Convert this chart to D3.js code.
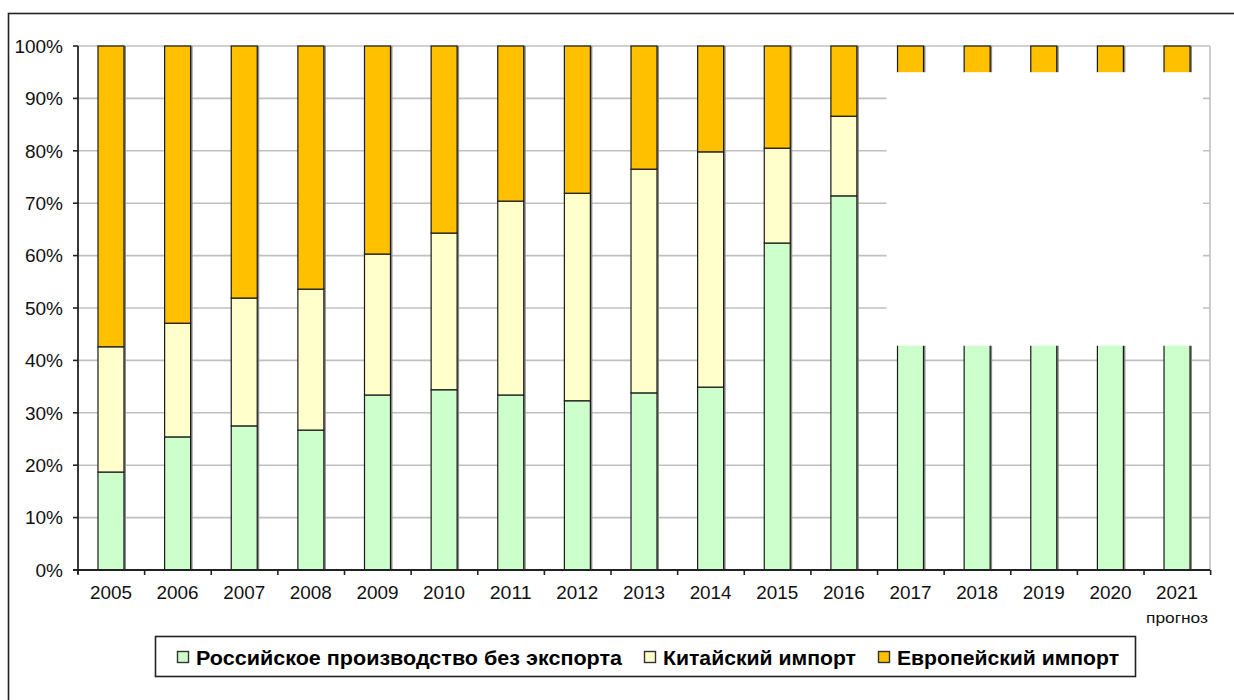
<!DOCTYPE html>
<html lang="ru">
<head>
<meta charset="UTF-8">
<title>Структура рынка</title>
<script src="https://d3js.org/d3.v7.min.js"></script>
<style>
  body { margin: 0; background: #fff; font-family: "Liberation Sans", Arial, sans-serif; }
  .grid line { stroke: #c0c0c0; stroke-width: 1.6px; }
  .ylab, .xlab { font-size: 19px; fill: #111; }
  .note { font-size: 15px; fill: #111; }
  .leg { font-size: 20px; fill: #000; font-weight: bold; }
</style>
</head>
<body>
<svg width="1234" height="700"></svg>
<script>
// годы
const years = ["2005","2006","2007","2008","2009","2010","2011","2012","2013","2014","2015","2016","2017","2018","2019","2020","2021"];
// доли, % (2017-2021 частично скрыты на исходной картинке, значения — оценка)
const russian = [18.7, 25.4, 27.5, 26.7, 33.4, 34.4, 33.4, 32.3, 33.8, 34.9, 62.4, 71.4, 76, 78, 80, 82, 84];
const chinese = [23.9, 21.7, 24.4, 26.9, 26.9, 29.9, 37.0, 39.6, 42.7, 44.9, 18.1, 15.2, 14, 13, 12, 11, 10];
const european = [57.4, 52.9, 48.1, 46.4, 39.7, 35.7, 29.6, 28.1, 23.5, 20.2, 19.5, 13.4, 10, 9, 8, 7, 6];
const yTicks = [0, 10, 20, 30, 40, 50, 60, 70, 80, 90, 100];
const seriesNames = ["Российское производство без экспорта", "Китайский импорт", "Европейский импорт"];
const colors = ["#ccffcc", "#ffffcc", "#ffc000"];

const svg = d3.select("svg");
const pLeft = 78, pRight = 1210, pTop = 46, pBottom = 570;

// рамка вокруг всей картинки
svg.append("rect").attr("x", 8.5).attr("y", 13.5).attr("width", 1300).attr("height", 800)
  .attr("fill", "none").attr("stroke", "#222").attr("stroke-width", 1.6);

const x = d3.scaleBand().domain(years).range([pLeft, pRight]).paddingInner(0.61).paddingOuter(0.3);
const y = d3.scaleLinear().domain([0, 100]).range([pBottom, pTop]);
const step = x.step();

// сетка
svg.append("g").attr("class", "grid")
  .selectAll("line").data(yTicks.filter(d => d > 0)).join("line")
  .attr("x1", pLeft).attr("x2", pRight).attr("y1", d => y(d)).attr("y2", d => y(d));
svg.append("line").attr("x1", pRight).attr("x2", pRight).attr("y1", pTop).attr("y2", pBottom)
  .attr("stroke", "#c0c0c0").attr("stroke-width", 1.6);

// стек
const rows = years.map((yr, i) => ({ year: yr, r: russian[i], c: chinese[i], e: european[i] }));
const stack = d3.stack().keys(["r", "c", "e"])(rows);

const gBars = svg.append("g");
stack.forEach(layer => {
  // тень справа
  gBars.append("g").selectAll("rect").data(layer).join("rect")
    .attr("x", d => x(d.data.year) + 2).attr("width", x.bandwidth())
    .attr("y", d => y(d[1])).attr("height", d => y(d[0]) - y(d[1]))
    .attr("fill", "#8a8a8a");
});
stack.forEach((layer, k) => {
  gBars.append("g").selectAll("rect").data(layer).join("rect")
    .attr("x", d => x(d.data.year)).attr("width", x.bandwidth())
    .attr("y", d => y(d[1])).attr("height", d => y(d[0]) - y(d[1]))
    .attr("fill", colors[k]).attr("stroke", "#1a1a1a").attr("stroke-width", 1.2);
});

// белая заплатка поверх прогнозных лет
svg.append("rect")
  .attr("x", x("2017") - 11).attr("width", pRight - 7 - (x("2017") - 11))
  .attr("y", y(95)).attr("height", y(42.8) - y(95))
  .attr("fill", "#fff");

// ось Y
svg.append("line").attr("x1", pLeft).attr("x2", pLeft).attr("y1", pTop).attr("y2", pBottom + 4)
  .attr("stroke", "#222").attr("stroke-width", 1.8);
svg.append("g").selectAll("line").data(yTicks).join("line")
  .attr("x1", pLeft - 5).attr("x2", pLeft).attr("y1", d => y(d)).attr("y2", d => y(d))
  .attr("stroke", "#222").attr("stroke-width", 1.6);
svg.append("g").selectAll("text").data(yTicks).join("text")
  .attr("class", "ylab").attr("x", pLeft - 15).attr("y", d => y(d)).attr("dy", "0.36em")
  .attr("text-anchor", "end").text(d => d + "%");

// ось X
svg.append("line").attr("x1", pLeft - 5).attr("x2", pRight).attr("y1", pBottom).attr("y2", pBottom)
  .attr("stroke", "#222").attr("stroke-width", 1.8);
svg.append("g").selectAll("line").data(d3.range(years.length + 1)).join("line")
  .attr("x1", i => pLeft + i * step).attr("x2", i => pLeft + i * step)
  .attr("y1", pBottom).attr("y2", pBottom + 5)
  .attr("stroke", "#222").attr("stroke-width", 1.6);
svg.append("g").selectAll("text").data(years).join("text")
  .attr("class", "xlab").attr("x", d => x(d) + x.bandwidth() / 2).attr("y", 599)
  .attr("text-anchor", "middle").attr("textLength", 42).attr("lengthAdjust", "spacingAndGlyphs")
  .text(d => d);
svg.append("text").attr("class", "note")
  .attr("x", x("2021") + x.bandwidth() / 2).attr("y", 623).attr("text-anchor", "middle")
  .attr("textLength", 62).attr("lengthAdjust", "spacingAndGlyphs")
  .text("прогноз");

// легенда
svg.append("rect").attr("x", 155.5).attr("y", 636.5).attr("width", 980).attr("height", 40)
  .attr("fill", "#fff").attr("stroke", "#222").attr("stroke-width", 1.6);
const legX = [177, 644, 878];
const legW = [426, 193, 222];
seriesNames.forEach((name, i) => {
  svg.append("rect").attr("x", legX[i] + 0.5).attr("y", 651.5).attr("width", 11).attr("height", 11)
    .attr("fill", colors[i]).attr("stroke", "#333").attr("stroke-width", 1.4);
  svg.append("text").attr("class", "leg").attr("x", legX[i] + 19).attr("y", 664.5)
    .attr("textLength", legW[i]).attr("lengthAdjust", "spacingAndGlyphs")
    .text(name);
});
</script>
</body>
</html>
